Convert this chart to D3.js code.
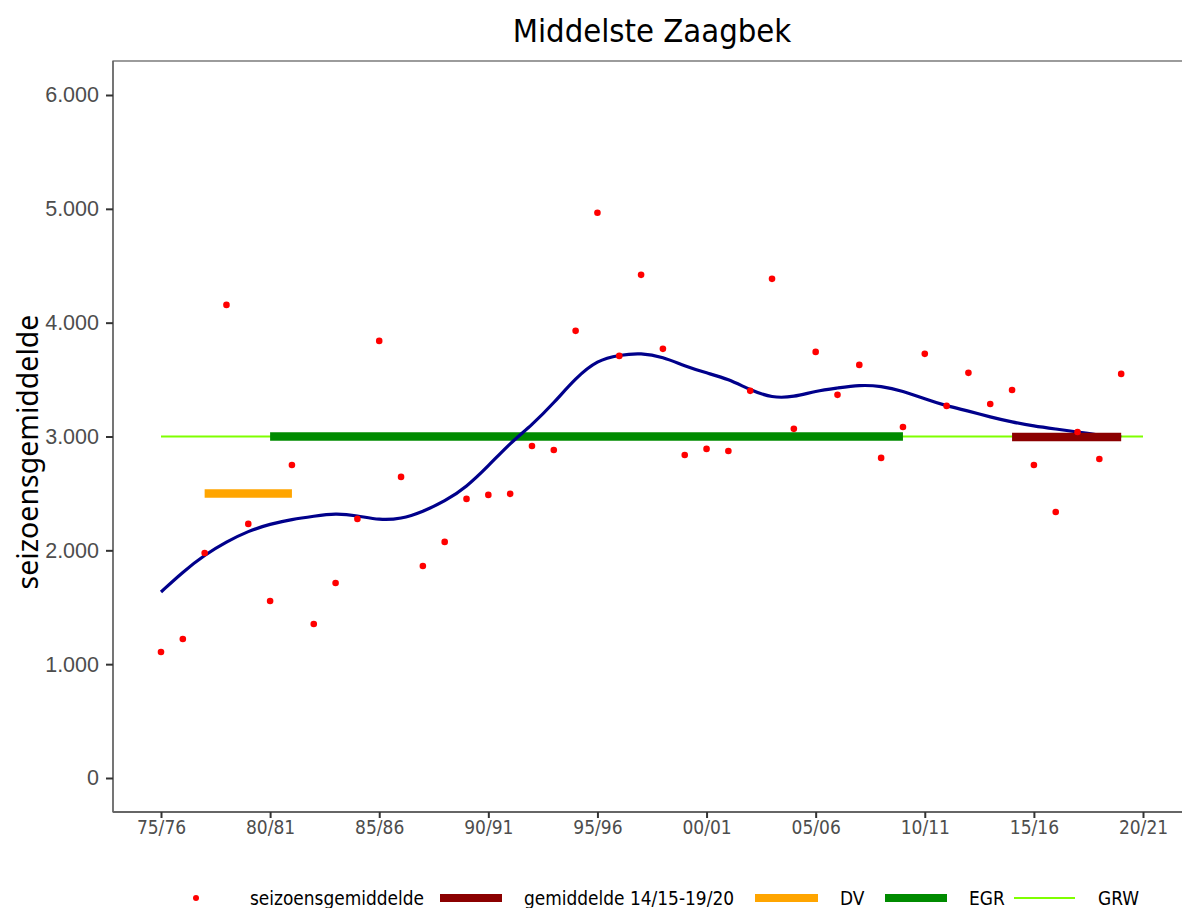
<!DOCTYPE html>
<html>
<head>
<meta charset="utf-8" />
<title>Middelste Zaagbek</title>
<script src="https://cdn.jsdelivr.net/npm/d3@7"></script>
<style>
	body { margin: 0; background: #fff; }
	svg { display: block; }
	.title { font-family: 'DejaVu Sans', sans-serif; font-stretch: condensed; font-size: 32.5px; fill: #000; }
	.ytick text { font-family: 'Liberation Sans', Arial, sans-serif; font-size: 21.5px; fill: #4d4d4d; }
	.xtick text { font-family: 'DejaVu Sans', sans-serif; font-stretch: condensed; font-size: 19px; fill: #4d4d4d; }
	.ylab { font-family: 'Noto Sans', sans-serif; font-size: 28.5px; fill: #000; }
	.legend text { font-family: 'DejaVu Sans', sans-serif; font-stretch: condensed; font-size: 18.9px; fill: #000; }
</style>
</head>
<body>
<script>
// seasons 75/76 .. 20/21
var seasons = ["75/76","76/77","77/78","78/79","79/80","80/81","81/82","82/83","83/84","84/85",
	"85/86","86/87","87/88","88/89","89/90","90/91","91/92","92/93","93/94","94/95",
	"95/96","96/97","97/98","98/99","99/00","00/01","01/02","02/03","03/04","04/05",
	"05/06","06/07","07/08","08/09","09/10","10/11","11/12","12/13","13/14","14/15",
	"15/16","16/17","17/18","18/19","19/20","20/21"];
var xTicks = ["75/76","80/81","85/86","90/91","95/96","00/01","05/06","10/11","15/16","20/21"];

// seizoensgemiddelde (75/76 .. 19/20)
var seasonMean = [1107,1221,1977,4156,2232,1555,2750,1353,1713,2276,
	3840,2645,1863,2074,2452,2487,2496,2917,2882,3928,
	4965,3708,4420,3770,2838,2891,2873,3401,4385,3067,
	3743,3366,3629,2812,3084,3726,3269,3559,3286,3409,
	2750,2337,3040,2803,3550];

// smoothed trend
var trend = [1634,1810,1960,2075,2170,2231,2272,2300,2325,2305,
	2265,2275,2340,2430,2556,2741,2943,3101,3294,3514,
	3672,3716,3734,3699,3619,3558,3505,3409,3338,3347,
	3400,3426,3453,3444,3400,3330,3268,3224,3171,3127,
	3092,3066,3040,3013,2996];

// reference levels: [from, to, value]
var grw = ["75/76","20/21",3000];
var egr = ["80/81","09/10",3000];
var dv  = ["77/78","81/82",2500];
var gem = ["14/15","19/20",2995];

var yTicks = [0,1000,2000,3000,4000,5000,6000];

var W = 1182, H = 908;
var padL = 113, padT = 61, padB = 812;

var svg = d3.select("body").append("svg").attr("width", W).attr("height", H);

var x = d3.scalePoint().domain(seasons).range([161, 1143]);
var y = d3.scaleLinear().domain([0, 6000]).range([778, 95]);

// title
svg.append("text").attr("class", "title")
	.attr("x", 652).attr("y", 42).attr("text-anchor", "middle")
	.text("Middelste Zaagbek");

// panel border (right edge lies outside the picture)
svg.append("rect").attr("x", padL).attr("y", padT)
	.attr("width", 1200).attr("height", padB - padT)
	.attr("fill", "none").attr("stroke", "#5a5a5a").attr("stroke-width", 1.2);
svg.append("line").attr("x1", padL).attr("x2", W).attr("y1", padB).attr("y2", padB)
	.attr("stroke", "#555").attr("stroke-width", 1.6);
svg.append("line").attr("x1", padL).attr("x2", padL).attr("y1", padT).attr("y2", padB)
	.attr("stroke", "#666").attr("stroke-width", 1.4);

// y axis
var yax = svg.append("g").attr("class", "ytick").attr("transform", "translate(" + padL + ",0)")
	.call(d3.axisLeft(y).tickValues(yTicks).tickSize(7).tickPadding(7)
		.tickFormat(function(d){ return d3.format(",")(d).replace(/,/g, "."); }));
yax.select(".domain").remove();
yax.selectAll("line").attr("stroke", "#333").attr("stroke-width", 2);

// x axis
var xax = svg.append("g").attr("class", "xtick").attr("transform", "translate(0," + padB + ")")
	.call(d3.axisBottom(x).tickValues(xTicks).tickSize(6).tickPadding(3));
xax.select(".domain").remove();
xax.selectAll("line").attr("stroke", "#333").attr("stroke-width", 2);

// y label
svg.append("text").attr("class", "ylab")
	.attr("transform", "translate(38,452) rotate(-90)")
	.attr("text-anchor", "middle").text("seizoensgemiddelde");

// GRW line
svg.append("line")
	.attr("x1", x(grw[0])).attr("x2", x(grw[1]))
	.attr("y1", y(grw[2])).attr("y2", y(grw[2]))
	.attr("stroke", "#7fff00").attr("stroke-width", 2);

// EGR, DV, gemiddelde bars
function level(d, col) {
	svg.append("line")
		.attr("x1", x(d[0])).attr("x2", x(d[1]))
		.attr("y1", y(d[2])).attr("y2", y(d[2]))
		.attr("stroke", col).attr("stroke-width", 8.5);
}
level(egr, "#008b00");
level(dv, "#ffa500");

// trend
var line = d3.line()
	.x(function(d, i){ return x(seasons[i]); })
	.y(function(d){ return y(d); })
	.curve(d3.curveBasis);
svg.append("path").datum(trend)
	.attr("d", line).attr("fill", "none")
	.attr("stroke", "#00008b").attr("stroke-width", 3.2);

level(gem, "#8b0000");

// points
svg.append("g").selectAll("circle").data(seasonMean).enter().append("circle")
	.attr("cx", function(d, i){ return x(seasons[i]); })
	.attr("cy", function(d){ return y(d); })
	.attr("r", 3.3).attr("fill", "#ff0000");

// legend
var lg = svg.append("g").attr("class", "legend");
var ly = 898;
lg.append("circle").attr("cx", 196).attr("cy", ly).attr("r", 3).attr("fill", "#ff0000");
lg.append("text").attr("x", 250).attr("y", ly + 7).text("seizoensgemiddelde");
var keys = [
	{x1: 440, x2: 502, col: "#8b0000", w: 8, tx: 524, t: "gemiddelde 14/15-19/20"},
	{x1: 755, x2: 818, col: "#ffa500", w: 8, tx: 840, t: "DV"},
	{x1: 885, x2: 947, col: "#008b00", w: 8, tx: 969, t: "EGR"},
	{x1: 1014, x2: 1075, col: "#7fff00", w: 2, tx: 1098, t: "GRW"}
];
keys.forEach(function(k){
	lg.append("line").attr("x1", k.x1).attr("x2", k.x2).attr("y1", ly).attr("y2", ly)
		.attr("stroke", k.col).attr("stroke-width", k.w);
	lg.append("text").attr("x", k.tx).attr("y", ly + 7).text(k.t);
});
</script>
</body>
</html>
